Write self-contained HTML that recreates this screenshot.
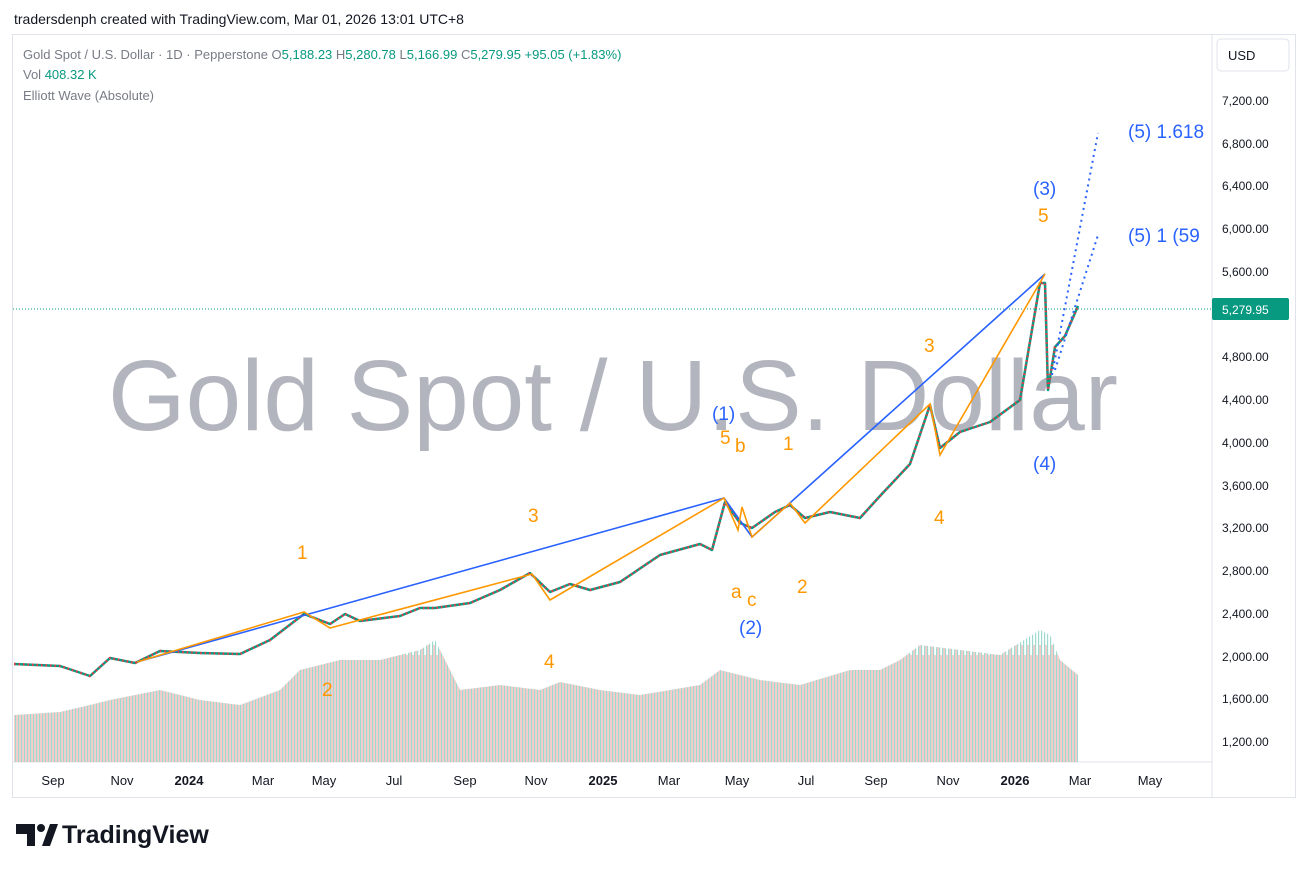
<!DOCTYPE html>
<html><head><meta charset="utf-8"><style>
body{margin:0;background:#fff;font-family:"Liberation Sans",sans-serif}
</style></head><body>
<svg width="1307" height="872" xmlns="http://www.w3.org/2000/svg" font-family="Liberation Sans, sans-serif">
<defs>
<pattern id="vp" x="0" y="620" width="6" height="200" patternUnits="userSpaceOnUse">
<rect x="0" y="0" width="1.2" height="200" fill="#9fdad0"/>
<rect x="1.5" y="25" width="1.2" height="200" fill="#f8b4b2"/>
<rect x="3" y="10" width="1.2" height="200" fill="#9fdad0"/>
<rect x="4.5" y="35" width="1.2" height="200" fill="#f8b4b2"/>
</pattern>
</defs>
<rect width="1307" height="872" fill="#fff"/>
<text x="14" y="24" font-size="14" fill="#131722">tradersdenph created with TradingView.com, Mar 01, 2026 13:01 UTC+8</text>
<rect x="12.5" y="34.5" width="1283" height="763" fill="none" stroke="#e0e3eb"/>
<line x1="1212" y1="35" x2="1212" y2="797" stroke="#e0e3eb"/>
<line x1="13" y1="762" x2="1212" y2="762" stroke="#e0e3eb"/>
<text x="108" y="430" font-size="100" fill="#b2b5be" textLength="1010" lengthAdjust="spacingAndGlyphs">Gold Spot / U.S. Dollar</text>
<polygon fill="url(#vp)" points="14,762 14,715 60,712 90,705 110,700 160,690 200,700 240,705 280,690 300,670 340,660 380,660 420,650 435,640 460,690 500,685 540,690 560,682 600,690 640,695 700,685 720,670 760,680 800,685 850,670 880,670 900,660 920,645 960,650 1000,655 1040,630 1050,635 1060,660 1078,675 1078,762"/>
<polyline fill="none" stroke="#089981" stroke-width="2.5" stroke-linejoin="round" points="14,664 60,666 90,676 110,658 135,663 160,651 200,653 240,654 270,640 304,614 330,624 345,614 360,621 400,616 420,608 435,608 470,603 500,590 530,573 550,592 570,584 590,590 620,582 660,555 700,544 712,550 725,502 740,523 752,528 775,512 790,505 805,518 830,512 860,518 880,496 910,464 930,405 940,448 960,432 990,422 1020,400 1040,283 1045,283 1048,390 1055,347 1065,336 1078,306"/>
<polyline fill="none" stroke="#f23645" stroke-width="2.5" stroke-dasharray="1.5 3" stroke-linejoin="round" points="14,664 60,666 90,676 110,658 135,663 160,651 200,653 240,654 270,640 304,614 330,624 345,614 360,621 400,616 420,608 435,608 470,603 500,590 530,573 550,592 570,584 590,590 620,582 660,555 700,544 712,550 725,502 740,523 752,528 775,512 790,505 805,518 830,512 860,518 880,496 910,464 930,405 940,448 960,432 990,422 1020,400 1040,283 1045,283 1048,390 1055,347 1065,336 1078,306"/>
<text x="23" y="59" font-size="13" fill="#787b86">Gold Spot / U.S. Dollar · 1D · Pepperstone O<tspan fill="#089981">5,188.23 </tspan>H<tspan fill="#089981">5,280.78 </tspan>L<tspan fill="#089981">5,166.99 </tspan>C<tspan fill="#089981">5,279.95 +95.05 (+1.83%)</tspan></text>
<text x="23" y="79" font-size="13" fill="#787b86">Vol <tspan fill="#089981">408.32 K</tspan></text>
<text x="23" y="100" font-size="13" fill="#787b86">Elliott Wave (Absolute)</text>
<rect x="1217" y="39" width="72" height="32" rx="4" fill="#fff" stroke="#e0e3eb"/>
<text x="1228" y="60" font-size="13" fill="#131722">USD</text>
<g font-size="12" fill="#131722">
<text x="1222" y="746">1,200.00</text><text x="1222" y="703">1,600.00</text><text x="1222" y="661">2,000.00</text>
<text x="1222" y="618">2,400.00</text><text x="1222" y="575">2,800.00</text><text x="1222" y="532">3,200.00</text>
<text x="1222" y="490">3,600.00</text><text x="1222" y="447">4,000.00</text><text x="1222" y="404">4,400.00</text>
<text x="1222" y="361">4,800.00</text><text x="1222" y="276">5,600.00</text><text x="1222" y="233">6,000.00</text>
<text x="1222" y="190">6,400.00</text><text x="1222" y="148">6,800.00</text><text x="1222" y="105">7,200.00</text>
</g>
<g font-size="13" fill="#131722" text-anchor="middle">
<text x="53" y="785">Sep</text><text x="122" y="785">Nov</text><text x="189" y="785" font-weight="bold">2024</text>
<text x="263" y="785">Mar</text><text x="324" y="785">May</text><text x="394" y="785">Jul</text>
<text x="465" y="785">Sep</text><text x="536" y="785">Nov</text><text x="603" y="785" font-weight="bold">2025</text>
<text x="669" y="785">Mar</text><text x="737" y="785">May</text><text x="806" y="785">Jul</text>
<text x="876" y="785">Sep</text><text x="948" y="785">Nov</text><text x="1015" y="785" font-weight="bold">2026</text>
<text x="1080" y="785">Mar</text><text x="1150" y="785">May</text>
</g>
<line x1="13" y1="309" x2="1212" y2="309" stroke="#089981" stroke-dasharray="1 2"/>
<polyline fill="none" stroke="#2962ff" stroke-width="1.6" points="137,662 724,498 752,537 1045,274"/>
<polyline fill="none" stroke="#ff9800" stroke-width="1.6" points="137,662 304,612 330,628 532,574 550,600 724,498 738,530 742,507 752,537 790,503 805,523 930,404 940,455 1045,274"/>
<polyline fill="none" stroke="#2962ff" stroke-width="2" stroke-dasharray="2 4" points="1052,375 1098,133"/>
<polyline fill="none" stroke="#2962ff" stroke-width="2" stroke-dasharray="2 4" points="1055,370 1098,235"/>
<g font-size="19" fill="#2962ff">
<text x="1128" y="138">(5) 1.618</text><text x="1128" y="242">(5) 1 (59</text>
<text x="1033" y="195">(3)</text><text x="1033" y="470">(4)</text>
<text x="712" y="420">(1)</text><text x="739" y="634">(2)</text></g>
<g font-size="19" fill="#ff9800">
<text x="1038" y="222">5</text><text x="924" y="352">3</text><text x="934" y="524">4</text>
<text x="720" y="444">5</text><text x="735" y="452">b</text><text x="783" y="450">1</text>
<text x="797" y="593">2</text><text x="731" y="598">a</text><text x="747" y="606">c</text>
<text x="528" y="522">3</text><text x="544" y="668">4</text><text x="297" y="559">1</text><text x="322" y="696">2</text></g>
<rect x="1212" y="298" width="77" height="22" rx="2" fill="#089981"/>
<text x="1222" y="314" font-size="12" fill="#fff">5,279.95</text>
<rect x="16" y="824" width="18" height="10" fill="#131722"/><rect x="27" y="824" width="8" height="22" fill="#131722"/>
<circle cx="41" cy="828" r="4" fill="#131722"/><polygon points="42,846 50,824 58,824 50,846" fill="#131722"/>
<text x="62" y="843" font-size="25" font-weight="bold" fill="#131722">TradingView</text>
</svg>
</body></html>
